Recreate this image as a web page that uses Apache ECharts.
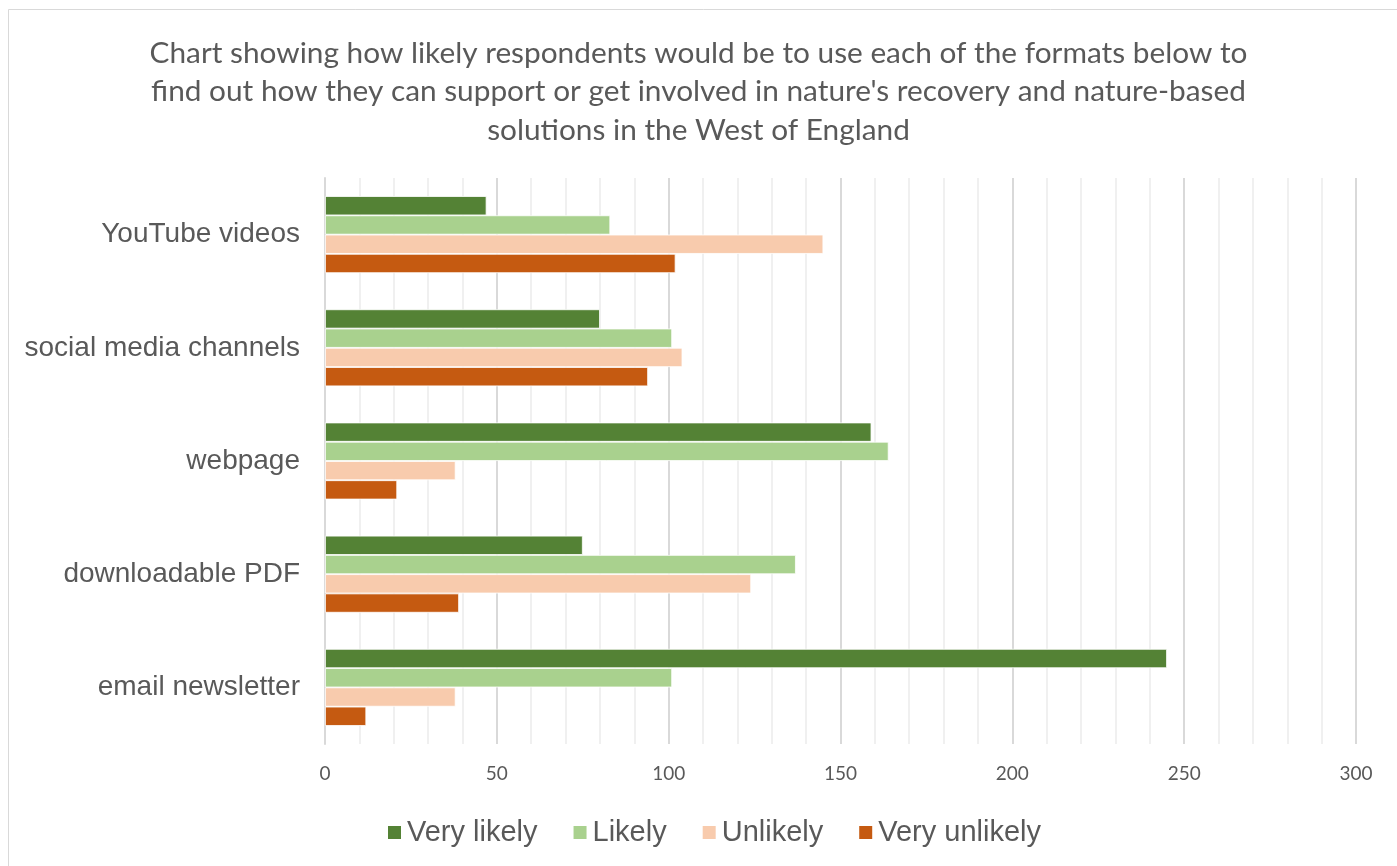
<!DOCTYPE html>
<html>
<head>
<meta charset="utf-8">
<script src="https://cdn.jsdelivr.net/npm/echarts@6/dist/echarts.min.js"></script>
<style>
html,body{margin:0;padding:0;background:#fff;}
#chart{width:1397px;height:866px;}
</style>
</head>
<body>
<div id="chart"></div>
<script>
const categories = ['email newsletter', 'downloadable PDF', 'webpage', 'social media channels', 'YouTube videos'];
const seriesNames = ['Very likely', 'Likely', 'Unlikely', 'Very unlikely'];
const veryLikely = [245, 75, 159, 80, 47];
const likely = [101, 137, 164, 101, 83];
const unlikely = [38, 124, 38, 104, 145];
const veryUnlikely = [12, 39, 21, 94, 102];
const xTicks = [0, 50, 100, 150, 200, 250, 300];
const titleText = "Chart showing how likely respondents would be to use each of the formats below to\nfind out how they can support or get involved in nature's recovery and nature-based\nsolutions in the West of England";

const colors = ['#548235', '#A9D18E', '#F8CBAD', '#C55A11'];
const values = [veryLikely, likely, unlikely, veryUnlikely];

const chart = echarts.init(document.getElementById('chart'));
chart.setOption({
  animation: false,
  backgroundColor: '#ffffff',
  graphic: [{
    type: 'rect',
    shape: { x: 8.5, y: 9.5, width: 1500, height: 1000 },
    style: { fill: 'none', stroke: '#d9d9d9', lineWidth: 1 },
    silent: true
  }],
  title: {
    text: titleText,
    left: 'center',
    top: 29,
    textStyle: {
      fontFamily: 'Lato, "Open Sans", sans-serif',
      fontSize: 29.8,
      fontWeight: 'normal',
      color: '#595959',
      lineHeight: 38.5
    }
  },
  legend: {
    data: seriesNames,
    bottom: 14,
    left: 381,
    itemWidth: 15,
    itemHeight: 15,
    itemGap: 34,
    icon: 'rect',
    textStyle: {
      fontFamily: '"Liberation Sans", Arial, sans-serif',
      fontSize: 29,
      color: '#595959'
    }
  },
  grid: {
    left: 325,
    right: 41,
    top: 178,
    bottom: 122,
    containLabel: false
  },
  xAxis: {
    type: 'value',
    min: xTicks[0],
    max: xTicks[xTicks.length - 1],
    interval: 50,
    axisLine: { show: false },
    axisTick: { show: false },
    axisLabel: {
      margin: 20,
      fontFamily: 'Lato, "Open Sans", sans-serif',
      fontSize: 19,
      color: '#595959'
    },
    splitLine: { show: true, lineStyle: { color: '#d9d9d9', width: 2 } },
    minorTick: { show: false, splitNumber: 5 },
    minorSplitLine: { show: true, lineStyle: { color: '#f0f0f0', width: 2 } }
  },
  yAxis: {
    type: 'category',
    data: categories,
    axisLine: { show: true, lineStyle: { color: '#d9d9d9', width: 2 } },
    axisTick: { show: false },
    axisLabel: {
      margin: 25,
      padding: [8, 0, 0, 0],
      fontFamily: '"Liberation Sans", Arial, sans-serif',
      fontSize: 28,
      color: '#595959'
    },
    splitLine: { show: false }
  },
  series: seriesNames.map((name, i) => ({
    name: name,
    type: 'bar',
    data: values[i],
    barGap: '0%',
    barCategoryGap: '32%',
    itemStyle: { color: colors[i], borderColor: '#ffffff', borderWidth: 0.8 }
  }))
});
</script>
</body>
</html>
